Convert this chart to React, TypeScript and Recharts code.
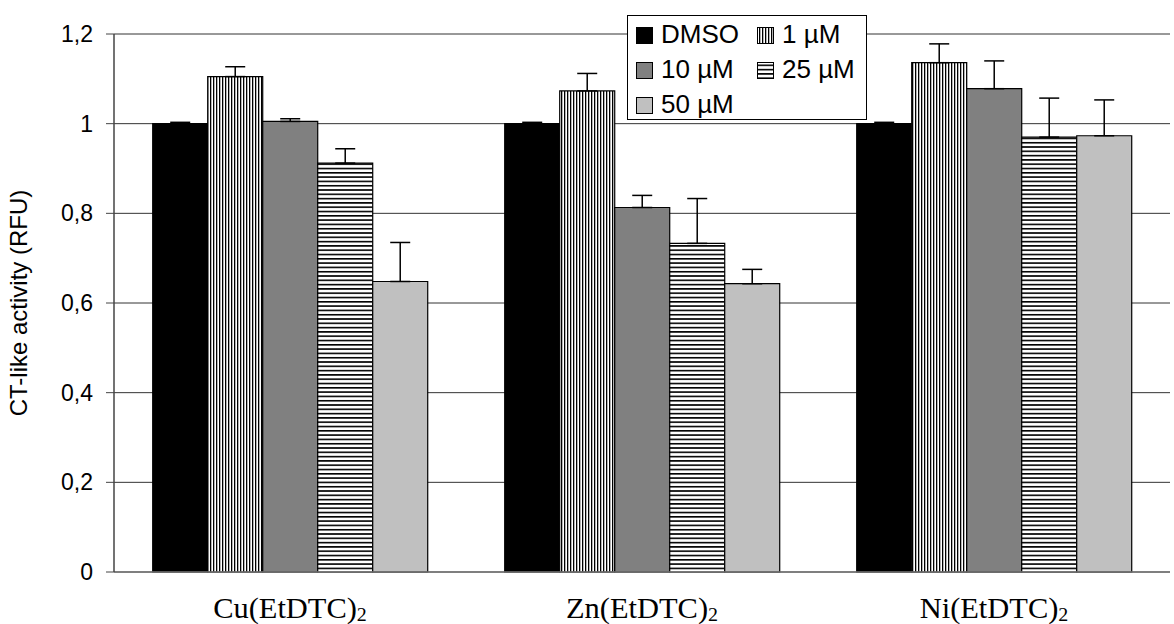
import React from "react";
import { BarChart, Bar, XAxis, YAxis, CartesianGrid, ErrorBar } from "recharts";

// compounds on the x axis
const compounds = ["Cu(EtDTC)", "Zn(EtDTC)", "Ni(EtDTC)"];

// mean RFU per treatment, one value per compound
const dmso = [1.0, 1.0, 1.0];
const uM1 = [1.105, 1.073, 1.136];
const uM10 = [1.005, 0.813, 1.078];
const uM25 = [0.912, 0.733, 0.97];
const uM50 = [0.648, 0.643, 0.973];

// upper error (SD)
const dmsoErr = [0.003, 0.003, 0.003];
const uM1Err = [0.022, 0.039, 0.042];
const uM10Err = [0.006, 0.027, 0.062];
const uM25Err = [0.032, 0.1, 0.087];
const uM50Err = [0.087, 0.032, 0.08];

const yTicks = [0, 0.2, 0.4, 0.6, 0.8, 1, 1.2];

const data = compounds.map((name, i) => ({
  name,
  dmso: dmso[i],
  uM1: uM1[i],
  uM10: uM10[i],
  uM25: uM25[i],
  uM50: uM50[i],
  dmsoErr: [0, dmsoErr[i]],
  uM1Err: [0, uM1Err[i]],
  uM10Err: [0, uM10Err[i]],
  uM25Err: [0, uM25Err[i]],
  uM50Err: [0, uM50Err[i]],
}));

const series = [
  { key: "dmso", label: "DMSO", fill: "#000000" },
  { key: "uM1", label: "1 µM", fill: "url(#vstripe)" },
  { key: "uM10", label: "10 µM", fill: "#808080" },
  { key: "uM25", label: "25 µM", fill: "url(#hstripe)" },
  { key: "uM50", label: "50 µM", fill: "#c0c0c0" },
];

const sans = "Arial, 'Liberation Sans', sans-serif";
const serif = "'Times New Roman', 'Liberation Serif', serif";

// category labels are a bit wider than plain Times in the original
function XTick(props: any) {
  const { x, y, payload } = props;
  return (
    <text
      transform={`translate(${x}, ${y + 38}) scale(1.05, 1)`}
      textAnchor="middle"
      fontFamily={serif}
      fontSize={29}
      fill="#000"
    >
      {payload.value}
      <tspan fontSize={19} dy={3}>2</tspan>
    </text>
  );
}

function Swatch({ fill, x, y }: { fill: string; x: number; y: number }) {
  return <rect x={x} y={y} width={16} height={16} fill={fill} stroke="#000" strokeWidth={1} />;
}

function LegendBox() {
  const pos = [
    [0, 0],
    [121, 0],
    [0, 35],
    [121, 35],
    [0, 70],
  ];
  return (
    <g>
      <rect x={627.5} y={15.5} width={239} height={104} fill="#fff" stroke="#000" strokeWidth={1} />
      {series.map((s, i) => (
        <g key={s.key}>
          <Swatch fill={s.fill} x={636.5 + pos[i][0]} y={27.5 + pos[i][1]} />
          <text x={661 + pos[i][0]} y={43 + pos[i][1]} fontFamily={sans} fontSize={26} fill="#000">
            {s.label}
          </text>
        </g>
      ))}
    </g>
  );
}

export default function App() {
  return (
    <div style={{ position: "absolute", left: 0, top: 0, width: 1174, height: 624, background: "#fff" }}>
      <svg width={0} height={0} style={{ position: "absolute" }}>
        <defs>
          <pattern id="vstripe" width={3} height={4} patternUnits="userSpaceOnUse">
            <rect width={3} height={4} fill="#fff" />
            <rect width={1.3} height={4} fill="#000" />
          </pattern>
          <pattern id="hstripe" width={4} height={4.3} patternUnits="userSpaceOnUse">
            <rect width={4} height={4.3} fill="#fff" />
            <rect width={4} height={1.6} fill="#000" />
          </pattern>
        </defs>
      </svg>
      <div style={{ position: "absolute", left: 0, top: 0 }}>
        <BarChart
          width={1174}
          height={624}
          data={data}
          margin={{ top: 34, right: 4, left: 14, bottom: 0 }}
          barGap={0}
          barCategoryGap="11%"
        >
          <CartesianGrid vertical={false} stroke="#333" strokeWidth={1} />
          <XAxis
            dataKey="name"
            height={52}
            tickLine={false}
            axisLine={{ stroke: "#777", strokeWidth: 1.5 }}
            tick={<XTick />}
            interval={0}
          />
          <YAxis
            width={100}
            domain={[0, 1.2]}
            ticks={yTicks}
            tickSize={8}
            tickMargin={13}
            axisLine={{ stroke: "#444", strokeWidth: 1.5 }}
            tickLine={{ stroke: "#444" }}
            tick={{ fontFamily: sans, fontSize: 23, fill: "#000" }}
            tickFormatter={(v: number) => String(v).replace(".", ",")}
            label={{
              value: "CT-like activity (RFU)",
              angle: -90,
              position: "insideLeft",
              offset: 4,
              style: { fontFamily: sans, fontSize: 24, fill: "#000", textAnchor: "middle" },
            }}
          />
          {series.map((s) => (
            <Bar key={s.key} dataKey={s.key} fill={s.fill} stroke="#000" strokeWidth={1.2} isAnimationActive={false}>
              <ErrorBar dataKey={`${s.key}Err`} width={10} stroke="#000" strokeWidth={1.5} direction="y" />
            </Bar>
          ))}
          <LegendBox />
        </BarChart>
      </div>
    </div>
  );
}
